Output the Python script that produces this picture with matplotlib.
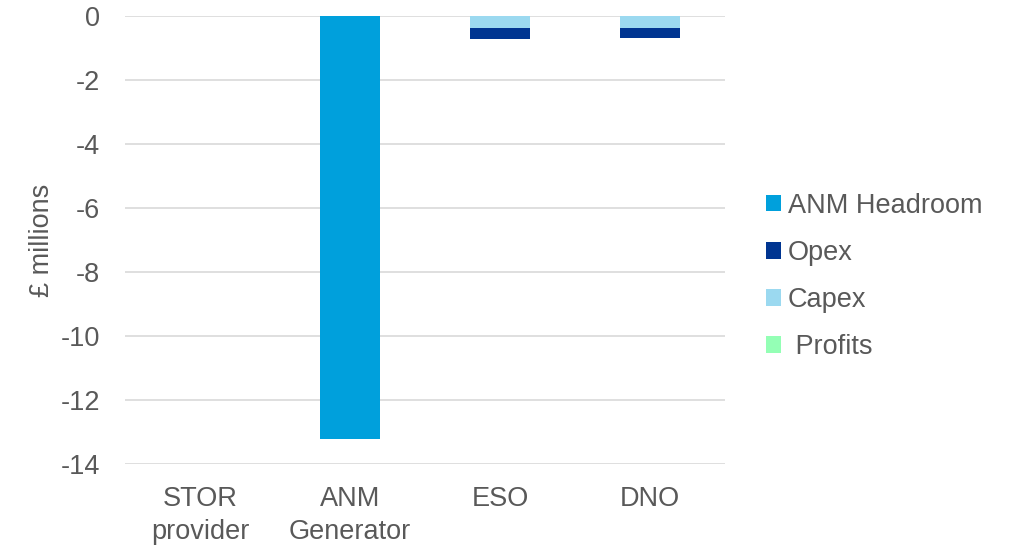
import matplotlib
matplotlib.use("Agg")
import matplotlib.pyplot as plt
from matplotlib.patches import Patch
import numpy as np

plt.rcParams['font.family'] = ['Liberation Sans', 'DejaVu Sans']

categories = ["STOR\nprovider", "ANM\nGenerator", "ESO", "DNO"]
anm_headroom = [0.0, -13.22, 0.0, 0.0]
capex = [0.0, 0.0, -0.38, -0.38]
opex = [0.0, 0.0, -0.33, -0.31]
profits = [0.0, 0.0, 0.0, 0.0]

series_labels = ["ANM Headroom", "Opex", "Capex", " Profits"]
colors = {"anm": "#00A0DC", "opex": "#003591", "capex": "#9BD9F0", "profits": "#94FFB5"}

text_color = "#595959"
grid_color = "#D9D9D9"
fs = 19.5

fig = plt.figure(figsize=(10.15, 5.47), dpi=100)
ax = fig.add_axes([125 / 1015, 1 - 464 / 547, 600 / 1015, 448 / 547])

x = np.arange(len(categories))
w = 0.4
ax.bar(x, anm_headroom, w, color=colors["anm"], zorder=2)
ax.bar(x, capex, w, color=colors["capex"], zorder=2)
ax.bar(x, opex, w, bottom=capex, color=colors["opex"], zorder=2)
ax.bar(x, profits, w, color=colors["profits"], zorder=2)

ax.set_xlim(-0.5, len(categories) - 0.5)
ax.set_ylim(-14, 0)
ax.set_yticks(np.arange(-14, 1, 2))
ax.set_yticklabels([str(v) for v in np.arange(-14, 1, 2)])
ax.set_xticks(x)
ax.set_xticklabels(categories, linespacing=1.38)
ax.tick_params(axis='both', length=0, labelsize=fs, labelcolor=text_color)
ax.tick_params(axis='y', pad=18)
ax.tick_params(axis='x', pad=15.5)
ax.yaxis.grid(True, color=grid_color, linewidth=1.2, zorder=1)
ax.set_axisbelow(True)
for s in ax.spines.values():
    s.set_visible(False)
ax.set_ylabel("£ millions", fontsize=fs, color=text_color, labelpad=4)

handles = [
    Patch(facecolor=colors["anm"]),
    Patch(facecolor=colors["opex"]),
    Patch(facecolor=colors["capex"]),
    Patch(facecolor=colors["profits"]),
]
leg = fig.legend(handles, series_labels, loc="center left",
                 bbox_to_anchor=(766 / 1015, 1 - 276.5 / 547), frameon=False,
                 fontsize=fs, handlelength=0.55, handleheight=0.55,
                 handletextpad=0.25, labelspacing=0.78, borderpad=0,
                 borderaxespad=0)
for t in leg.get_texts():
    t.set_color(text_color)

fig.savefig("out.png", dpi=100)
